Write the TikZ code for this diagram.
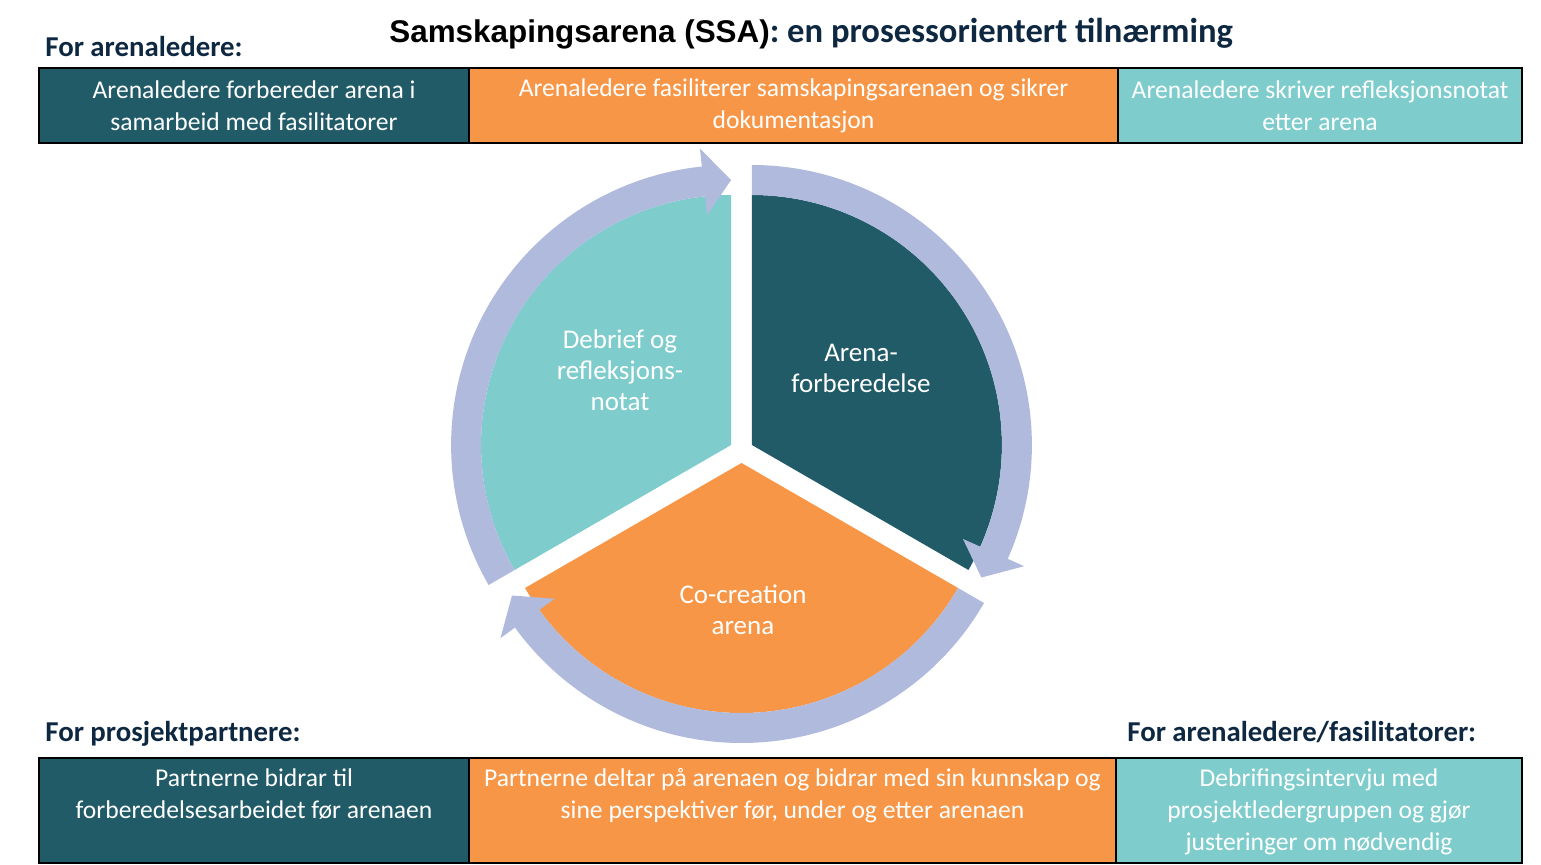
\documentclass[tikz,border=0pt]{standalone}
\usepackage{fontspec}
\setmainfont{Carlito}
\newfontfamily\arialfam{Liberation Sans}
\usetikzlibrary{calc}
\definecolor{dteal}{HTML}{215B68}
\definecolor{orng}{HTML}{F79646}
\definecolor{lteal}{HTML}{7ECCCC}
\definecolor{ringc}{HTML}{AFBADD}
\definecolor{navy}{HTML}{0E2841}
\tikzset{
  box/.style={draw=black, line width=1pt, inner sep=0pt, anchor=north west},
  boxtext/.style={text=white, align=center, inner sep=0pt, font=\fontsize{12.8}{16}\selectfont},
  sectortext/.style={text=white, align=center, inner sep=0pt, font=\fontsize{13.5}{15.5}\selectfont},
  heading/.style={text=navy, inner sep=0pt, anchor=base west, font=\bfseries\fontsize{14.4}{16}\selectfont},
}
\begin{document}
\begin{tikzpicture}[x=0.5pt,y=-0.5pt]
\useasboundingbox (0,0) rectangle (1541,865);
% title
\node[inner sep=0pt, anchor=base west] (title) at (389,43)
  {{\arialfam\bfseries\fontsize{15.7}{18}\selectfont Samskapingsarena (SSA)}{\color{navy}\bfseries\fontsize{17.3}{20}\selectfont: en prosessorientert tilnærming}};
% headings
\node[heading] (h1) at (45,57) {For arenaledere:};
\node[heading] (h2) at (45,741) {For prosjektpartnere:};
\node[heading] (h3) at (1127,741) {For arenaledere/fasilitatorer:};
% top boxes
\node[box, fill=dteal, minimum width=215pt, minimum height=37.5pt] (t1) at (38,67) {};
\node[box, fill=orng, minimum width=324.5pt, minimum height=37.5pt] (t2) at (468,67) {};
\node[box, fill=lteal, minimum width=202pt, minimum height=37.5pt] (t3) at (1117,67) {};
\node[boxtext] (t1x) at (t1.center) {Arenaledere forbereder arena i\\samarbeid med fasilitatorer};
\node[boxtext] (t2x) at (t2.center) {Arenaledere fasiliterer samskapingsarenaen og sikrer\\dokumentasjon};
\node[boxtext] (t3x) at (t3.center) {Arenaledere skriver refleksjonsnotat\\etter arena};
% bottom boxes
\node[box, fill=dteal, minimum width=215pt, minimum height=52.5pt] (b1) at (38,757) {};
\node[box, fill=orng, minimum width=323.5pt, minimum height=52.5pt] (b2) at (468,757) {};
\node[box, fill=lteal, minimum width=203pt, minimum height=52.5pt] (b3) at (1115,757) {};
\node[boxtext, anchor=north] (b1x) at ($(b1.north)+(0,11)$) {Partnerne bidrar til\\forberedelsesarbeidet før arenaen};
\node[boxtext, anchor=north] (b2x) at ($(b2.north)+(0,11)$) {Partnerne deltar på arenaen og bidrar med sin kunnskap og\\sine perspektiver før, under og etter arenaen};
\node[boxtext, anchor=north] (b3x) at ($(b3.north)+(0,11)$) {Debrifingsintervju med\\prosjektledergruppen og gjør\\justeringer om nødvendig};
% cycle
\coordinate (vd) at (751.9,445);
\coordinate (vt) at (731.1,445);
\coordinate (vo) at (741.5,463);
\fill[dteal] (vd) -- ($(vd)+(-90:250)$) arc[start angle=-90, end angle=30, radius=250] -- cycle;
\fill[orng] (vo) -- ($(vo)+(30:250)$) arc[start angle=30, end angle=150, radius=250] -- cycle;
\fill[lteal] (vt) -- ($(vt)+(150:250)$) arc[start angle=150, end angle=270, radius=250] -- cycle;
\foreach \v/\a in {vd/-90, vo/30, vt/150} {
  \pgfmathsetmacro\bb{\a+114}
  \pgfmathsetmacro\cc{\a+120}
  \fill[ringc] ($(\v)+(\a:280)$) arc[start angle=\a, end angle=\bb, radius=280]
    -- ($(\v)+(\bb:298)$) -- ($(\v)+(\cc:265)$) -- ($(\v)+(\bb:231)$) -- ($(\v)+(\bb:250)$)
    arc[start angle=\bb, end angle=\a, radius=250] -- cycle;
}
\node[sectortext] (sd) at (861,368) {Arena-\\forberedelse};
\node[sectortext] (st) at (620,370) {Debrief og\\refleksjons-\\notat};
\node[sectortext] (so) at (743,610) {Co-creation\\arena};
\end{tikzpicture}
\end{document}
